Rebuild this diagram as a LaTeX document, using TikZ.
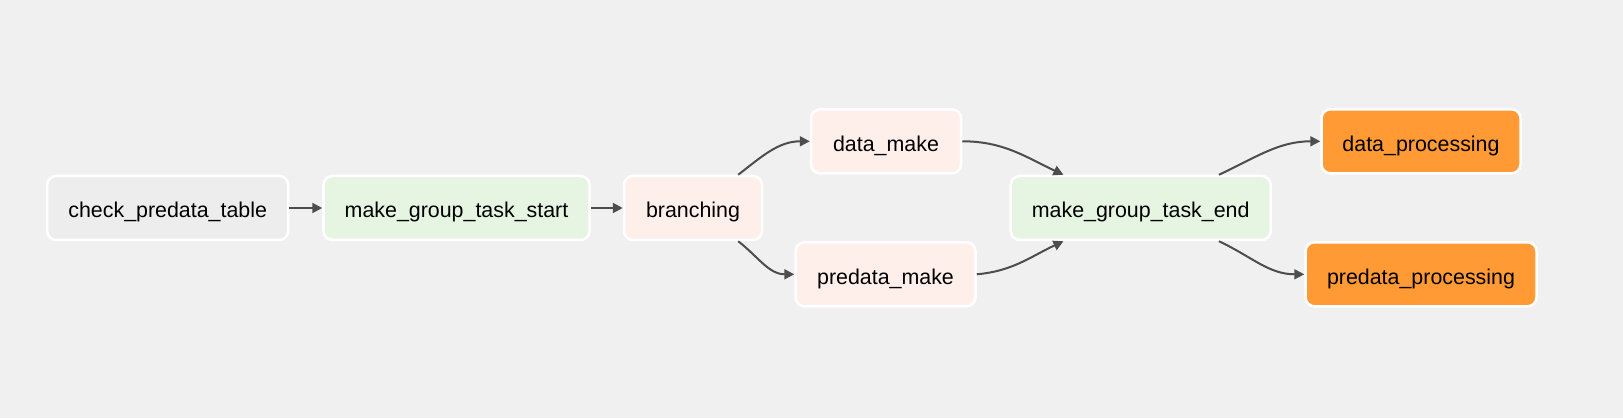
\documentclass[tikz,border=0pt]{standalone}
\usepackage{fontspec}
\setmainfont{Liberation Sans}
\usetikzlibrary{arrows.meta}
\definecolor{canvasgray}{HTML}{F0F0F0}
\definecolor{sensorgray}{HTML}{EDEDED}
\definecolor{dummygreen}{HTML}{E6F5E2}
\definecolor{pythonpink}{HTML}{FFEFEA}
\definecolor{failorange}{HTML}{FF9A35}
\definecolor{edgegray}{HTML}{4D4D4D}
\begin{document}
\begin{tikzpicture}
[x=0.5pt,y=0.5pt,
  nodedecorate/.style={shape=rectangle,rounded corners=4.5pt,draw=white,line width=1.25pt,%
    minimum height=32pt,inner sep=0pt,text height=10pt,text depth=0pt,%
    font=\fontsize{10.7pt}{12pt}\selectfont},%
  linedecorate/.style={-{Triangle[length=5pt,width=5pt]},line width=1pt,draw=edgegray}]
%% background
\fill[canvasgray] (0,0) rectangle (1623,418);
%% nodes or tasks
\foreach \nodename/\x/\y/\w/\tint/\tasklabel in {
  check/167.7/210/120.5/sensorgray/check\_predata\_table,
  makestart/456.5/210/133/dummygreen/make\_group\_task\_start,
  branching/693/210/69/pythonpink/branching,
  datamake/886/276.7/75/pythonpink/data\_make,
  predatamake/885.5/143.7/90/pythonpink/predata\_make,
  makeend/1140.7/210/130/dummygreen/make\_group\_task\_end,
  dataproc/1421/276.7/99.5/failorange/data\_processing,
  predataproc/1421/143.7/115.5/failorange/predata\_processing} {
  \node (\nodename) at (\x,\y) [nodedecorate,minimum width=\w pt,fill=\tint] {\tasklabel};
}
%% edges or dependencies
\path
  (check) edge[linedecorate] (makestart)
  (makestart) edge[linedecorate] (branching)
  ([xshift=-12.5pt]branching.north east) edge[linedecorate,out=38,in=180] (datamake.west)
  ([xshift=-12.5pt]branching.south east) edge[linedecorate,out=-38,in=180] (predatamake.west)
  (datamake.east) edge[linedecorate,out=0,in=155] ([xshift=27pt]makeend.north west)
  (predatamake.east) edge[linedecorate,out=5,in=205] ([xshift=27pt]makeend.south west)
  ([xshift=-26.5pt]makeend.north east) edge[linedecorate,out=25,in=180] (dataproc.west)
  ([xshift=-26.5pt]makeend.south east) edge[linedecorate,out=-25,in=180] (predataproc.west);
\end{tikzpicture}
\end{document}
